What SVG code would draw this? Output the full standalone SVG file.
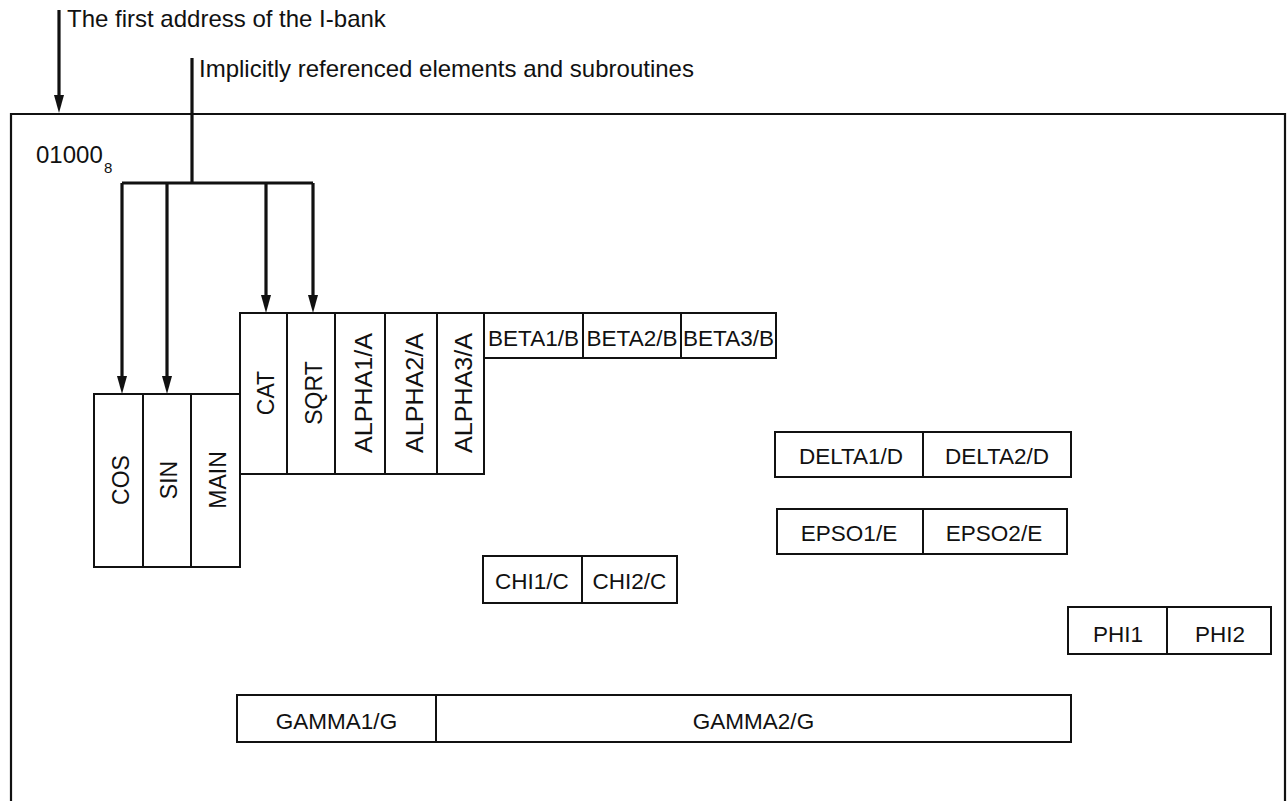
<svg xmlns="http://www.w3.org/2000/svg" width="1288" height="801" viewBox="0 0 1288 801">
<style>
text{font-family:"Liberation Sans",Arial,sans-serif;fill:#111}
.cap{font-size:24px}
.lbl{font-size:22.5px;text-anchor:middle}
.vl{font-size:23px;text-anchor:middle}
.box{fill:none;stroke:#111;stroke-width:2}
.frame{fill:none;stroke:#111;stroke-width:2.2}
.con{fill:none;stroke:#111;stroke-width:3.2}
.head{fill:#111}
</style>
<rect width="1288" height="801" fill="#fff"/>
<g id="frame">
<path class="frame" d="M11,801 V114 H1285 V801"/>
<text x="36" y="163" style="font-size:24px">01000</text>
<text x="104" y="173" style="font-size:15px">8</text>
</g>
<g id="connectors">
<path class="con" d="M59,10 V96"/>
<path class="head" d="M54,95 L59,113 L64,95 Z"/>
<path class="con" d="M192,58 V183"/>
<path class="con" d="M122,183 H313"/>
<path class="con" d="M122,183 V377"/>
<path class="con" d="M167,183 V377"/>
<path class="con" d="M266,183 V296"/>
<path class="con" d="M313,183 V296"/>
<path class="head" d="M117,376 L122,394 L127,376 Z"/>
<path class="head" d="M162,376 L167,394 L172,376 Z"/>
<path class="head" d="M261,295 L266,313 L271,295 Z"/>
<path class="head" d="M308,295 L313,313 L318,295 Z"/>
<text class="cap" x="67" y="27">The first address of the I-bank</text>
<text class="cap" x="199" y="77">Implicitly referenced elements and subroutines</text>
</g>
<g id="cos"><rect class="box" x="94" y="394" width="49" height="173"/><text class="vl" transform="translate(129,480) rotate(-90)">COS</text></g>
<g id="sin"><rect class="box" x="143" y="394" width="48" height="173"/><text class="vl" transform="translate(177,480) rotate(-90)">SIN</text></g>
<g id="main"><rect class="box" x="191" y="394" width="49" height="173"/><text class="vl" transform="translate(226,480) rotate(-90)">MAIN</text></g>
<g id="cat"><rect class="box" x="240" y="313" width="47" height="161"/><text class="vl" transform="translate(274,393) rotate(-90)">CAT</text></g>
<g id="sqrt"><rect class="box" x="287" y="313" width="48" height="161"/><text class="vl" transform="translate(322,393) rotate(-90)">SQRT</text></g>
<g id="alpha1"><rect class="box" x="335" y="313" width="50" height="161"/><text class="vl" transform="translate(372,393) rotate(-90)" textLength="120" lengthAdjust="spacingAndGlyphs">ALPHA1/A</text></g>
<g id="alpha2"><rect class="box" x="385" y="313" width="52" height="161"/><text class="vl" transform="translate(423,393) rotate(-90)" textLength="120" lengthAdjust="spacingAndGlyphs">ALPHA2/A</text></g>
<g id="alpha3"><rect class="box" x="437" y="313" width="47" height="161"/><text class="vl" transform="translate(472,393) rotate(-90)" textLength="120" lengthAdjust="spacingAndGlyphs">ALPHA3/A</text></g>
<g id="beta1"><rect class="box" x="484" y="313" width="99" height="45"/><text class="lbl" x="533.5" y="346">BETA1/B</text></g>
<g id="beta2"><rect class="box" x="583" y="313" width="98" height="45"/><text class="lbl" x="632" y="346">BETA2/B</text></g>
<g id="beta3"><rect class="box" x="681" y="313" width="95" height="45"/><text class="lbl" x="728.5" y="346">BETA3/B</text></g>
<g id="delta1"><rect class="box" x="775" y="432" width="148" height="45"/><text class="lbl" x="851" y="464">DELTA1/D</text></g>
<g id="delta2"><rect class="box" x="923" y="432" width="148" height="45"/><text class="lbl" x="997" y="464">DELTA2/D</text></g>
<g id="epso1"><rect class="box" x="777" y="509" width="146" height="45"/><text class="lbl" x="849" y="541">EPSO1/E</text></g>
<g id="epso2"><rect class="box" x="923" y="509" width="144" height="45"/><text class="lbl" x="994" y="541">EPSO2/E</text></g>
<g id="chi1"><rect class="box" x="483" y="556" width="99" height="47"/><text class="lbl" x="532" y="589">CHI1/C</text></g>
<g id="chi2"><rect class="box" x="582" y="556" width="95" height="47"/><text class="lbl" x="629.5" y="589">CHI2/C</text></g>
<g id="phi1"><rect class="box" x="1068" y="607" width="99" height="47"/><text class="lbl" x="1118" y="642">PHI1</text></g>
<g id="phi2"><rect class="box" x="1167" y="607" width="104" height="47"/><text class="lbl" x="1220" y="642">PHI2</text></g>
<g id="gamma1"><rect class="box" x="237" y="695" width="199" height="47"/><text class="lbl" x="336.5" y="729">GAMMA1/G</text></g>
<g id="gamma2"><rect class="box" x="436" y="695" width="635" height="47"/><text class="lbl" x="753.5" y="729">GAMMA2/G</text></g>
</svg>
